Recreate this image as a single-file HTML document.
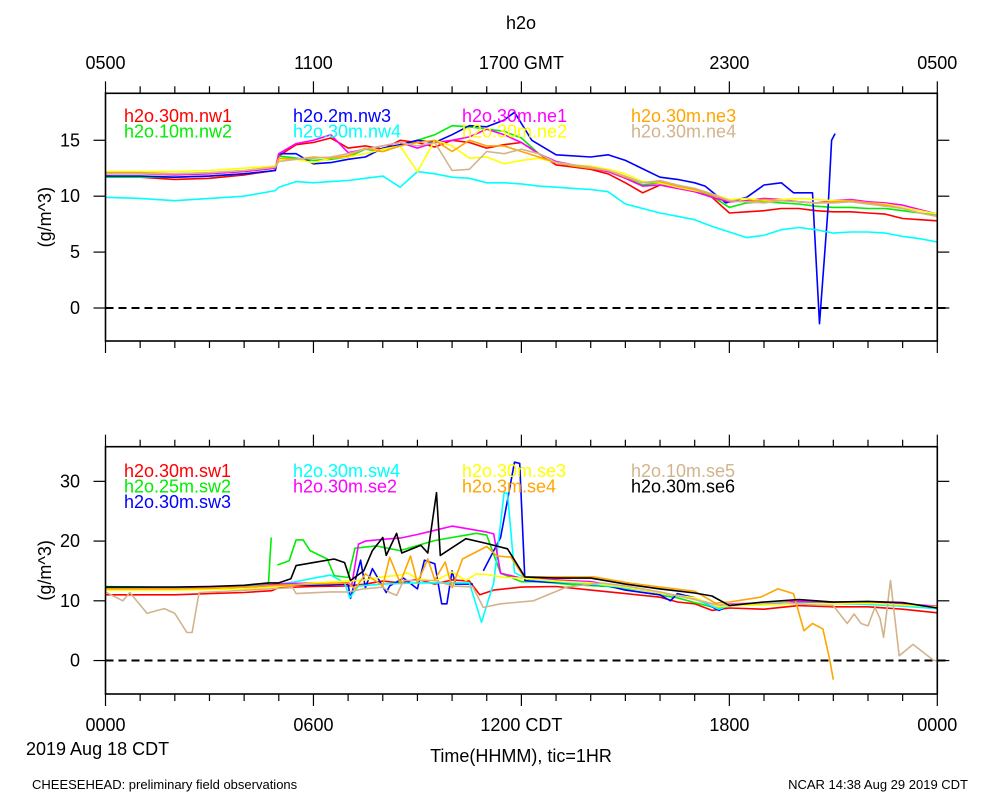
<!DOCTYPE html>
<html><head><meta charset="utf-8"><style>
html,body{margin:0;padding:0;background:#fff;}
svg{display:block;font-family:"Liberation Sans",Arial,sans-serif;}
</style></head><body>
<svg id="chart" width="1000" height="800" viewBox="0 0 1000 800" xmlns="http://www.w3.org/2000/svg">
<text x="521" y="29" font-size="18" text-anchor="middle">h2o</text>
<g id="top-axis-labels" font-size="18" text-anchor="middle"></g>
<g id="panel-top"></g>
<g id="panel-bot"></g>
<g id="bot-axis-labels" font-size="18" text-anchor="middle"></g>
<text x="26" y="755" font-size="18">2019 Aug 18 CDT</text>
<text x="521" y="762" font-size="18" text-anchor="middle">Time(HHMM), tic=1HR</text>
<text x="32" y="789" font-size="13">CHEESEHEAD: preliminary field observations</text>
<text x="968" y="789" font-size="13" text-anchor="end">NCAR 14:38 Aug 29 2019 CDT</text>
</svg>
<script>
// ---- shared ----
const topTickLabels = ["0500","1100","1700 GMT","2300","0500"];
const botTickLabels = ["0000","0600","1200 CDT","1800","0000"];
const topYTicks = [0,5,10,15];
const botYTicks = [0,10,20,30];

// ---- top panel data ----
const tT = [0,1,2,3,4,4.9,5,5.5,6,6.5,7,7.5,8,8.5,9,9.5,10,10.5,11,11.5,12,12.5,13,13.5,14,14.5,15,15.5,16,16.5,17,17.5,18,18.5,19,19.5,20,20.5,21,21.5,22,22.5,23,23.5,24];
const nw1 = [11.8,11.7,11.5,11.6,11.9,12.3,13.6,14.6,14.8,15.2,14.3,14.5,14.2,15.0,14.8,14.4,15.0,14.8,14.3,14.6,14.8,13.8,12.8,12.6,12.4,12.0,11.2,10.3,11.0,10.7,10.5,9.9,8.5,8.6,8.7,8.9,8.9,8.7,8.6,8.6,8.5,8.4,8.0,7.9,7.8];
const nw2 = [11.7,11.7,11.7,11.8,12.0,12.3,13.6,13.4,13.2,13.3,13.5,14.2,14.0,14.5,15.0,15.5,16.3,16.2,16.0,15.8,15.2,13.8,13.0,12.7,12.5,12.3,11.6,11.0,11.2,10.8,10.5,10.0,9.0,9.4,9.5,9.4,9.3,9.1,9.0,9.0,8.9,8.9,8.7,8.5,8.3];
const nw3T = [0,1,2,3,4,4.9,5,5.5,6,6.5,7,7.5,8,8.5,9,9.5,10,10.5,11,11.5,11.8,12.3,13,14,14.5,15,16,16.5,17,17.3,17.9,18.5,19,19.5,19.85,20.4,20.6,20.85,20.95,21.05];
const nw3 = [11.8,11.8,11.7,11.8,12.0,12.3,13.8,13.8,12.9,13.0,13.3,13.5,14.3,14.6,15.0,14.8,15.5,16.3,16.2,16.8,17.5,15.0,13.7,13.5,13.7,13.2,11.7,11.5,11.2,10.9,9.4,9.9,11.0,11.2,10.3,10.3,-1.4,9.0,15.0,15.6];
const nw4 = [9.9,9.8,9.6,9.8,10.0,10.5,10.8,11.3,11.2,11.3,11.4,11.6,11.8,10.8,12.2,12.0,11.7,11.6,11.2,11.2,11.1,10.9,10.8,10.7,10.6,10.4,9.3,8.9,8.5,8.2,7.9,7.3,6.8,6.3,6.5,7.0,7.2,7.0,6.7,6.8,6.8,6.7,6.4,6.2,5.9];
const ne1 = [12.0,12.0,11.9,12.0,12.2,12.5,13.8,14.7,15.0,15.5,13.9,14.2,14.5,14.8,14.3,14.8,15.0,15.3,16.0,15.5,14.8,13.8,13.1,12.8,12.5,12.2,11.6,10.9,11.0,10.7,10.4,9.9,9.5,9.6,9.8,9.7,9.5,9.4,9.6,9.7,9.5,9.4,9.2,8.8,8.4];
const ne2 = [12.2,12.2,12.2,12.3,12.5,12.7,13.2,13.3,13.0,13.4,13.5,13.8,14.2,14.5,12.2,15.0,14.5,13.4,13.5,12.9,13.2,13.4,13.0,12.8,12.7,12.4,12.0,11.3,11.2,10.8,10.5,10.2,9.7,9.8,9.6,9.7,9.8,9.7,9.6,9.6,9.4,9.3,9.0,8.7,8.4];
const ne3 = [12.1,12.1,12.0,12.1,12.3,12.6,13.4,13.3,13.5,13.4,13.6,14.3,14.0,14.5,14.8,15.0,14.0,15.0,14.5,14.5,14.0,13.5,13.0,12.7,12.5,12.3,11.7,11.2,11.3,10.9,10.6,10.1,9.6,9.5,9.7,9.6,9.5,9.4,9.5,9.6,9.4,9.2,8.9,8.5,8.2];
const ne4 = [12.0,12.0,12.0,12.1,12.3,12.6,13.1,13.3,13.4,13.5,13.8,14.2,14.5,14.8,14.5,14.8,12.3,12.4,14.0,13.8,14.2,13.8,13.0,12.8,12.6,12.3,11.8,11.2,11.4,11.0,10.7,10.2,9.6,9.5,9.4,9.6,9.5,9.4,9.4,9.5,9.3,9.1,8.9,8.5,8.2];

// ---- bottom panel data ----
const sw1T = [0,1,2,3,4,4.8,5,6,7,7.5,8,8.5,9,9.5,10,10.5,10.8,11.2,12,13,14,15,16,16.5,17,17.5,18,19,20,21,22,23,24];
const sw1 = [11.0,11.0,11.0,11.2,11.4,11.7,12.2,12.4,12.5,12.8,13.3,13.0,13.6,12.8,13.5,13.3,11.0,11.8,12.3,12.4,11.8,11.2,10.6,9.8,9.5,8.4,8.8,8.6,9.2,9.0,9.0,8.6,8.0];
const sw2T = [0,1,2,3,4,4.7,4.78,4.79,4.96,5.3,5.5,5.7,5.9,6.4,6.6,7,7.2,7.8,8.5,9.5,10.7,11,11.4,12,12.5,13.5,14.5,15.5,16.5,17,17.7,18,19,20,21,22,23,24];
const sw2 = [12.4,12.3,12.2,12.3,12.5,12.7,20.6,null,16.0,16.7,20.2,20.2,18.4,17.0,14.2,13.9,18.8,19.2,18.4,20.1,21.3,21.0,14.6,13.2,13.2,12.7,12.4,11.4,10.5,9.7,8.7,9.2,9.6,9.8,9.7,9.6,9.3,8.8];
const sw3T = [0,1,2,3,4,4.9,5,6,7,7.07,7.36,7.5,7.7,8.1,8.2,8.6,9,9.2,9.5,9.7,9.85,10,10.1,10.6,10.7,10.9,11.4,11.8,11.95,12.1,12.5,13.5,14.5,15,16,16.3,16.5,17,17.7,18,19,20,21,22,23,24];
const sw3 = [12.0,12.0,12.0,12.1,12.3,12.5,12.7,12.6,12.8,10.4,16.8,12.2,15.4,11.4,12.5,13.8,12.0,16.8,16.2,9.5,9.5,15.0,12.8,12.8,null,15.0,20.6,33.2,33.0,13.4,13.2,13.0,12.5,11.8,11.0,10.0,11.2,10.5,8.4,9.3,9.5,9.8,9.6,9.5,9.3,9.0];
const sw4T = [0,1,2,3,4,5,5.5,6,6.5,6.9,7.05,7.3,8,9,10,10.5,10.85,11.2,11.5,11.6,11.8,12.2,13,14,15,16,16.5,17,17.7,18,19,20,21,22,23,24];
const sw4 = [12.1,12.1,12.1,12.2,12.4,12.8,13.2,13.8,14.3,13.0,10.5,12.5,12.8,13.0,13.0,13.0,6.4,13.0,28.1,28.0,14.7,13.6,13.2,12.8,12.2,11.3,10.9,10.3,8.6,9.2,9.5,9.7,9.5,9.4,9.1,8.7];
const se2T = [0,1,2,3,4,5,6,7,7.1,7.3,7.5,8,8.5,9,9.5,10,10.5,11,11.2,11.4,12,13,14,15,16,17,17.7,18,19,20,21,22,23,24];
const se2 = [12.0,12.0,12.0,12.2,12.3,12.8,13.0,13.1,12.5,19.5,20.0,20.3,20.5,21.1,21.8,22.5,22.0,21.5,21.2,14.6,13.8,13.5,13.2,12.3,11.3,10.4,9.0,9.5,9.6,9.9,9.8,9.7,9.5,9.1];
const se3T = [0,1,2,3,4,5,6,7,7.5,8,8.5,8.7,9,9.5,10,10.4,10.7,11,11.5,12,13,14,15,16,17,17.7,18,19,20,21,22,23,24];
const se3 = [11.8,11.8,11.8,11.9,12.0,12.4,13.0,13.3,13.5,14.0,14.3,14.7,13.7,13.3,14.8,13.4,14.5,14.4,13.9,13.8,13.3,13.0,12.3,11.3,10.5,9.0,9.2,9.3,9.5,9.5,9.6,9.3,9.0];
const se4T = [0,1,2,3,4,5,6,7,7.2,7.5,8,8.2,8.5,8.8,9,9.3,9.5,9.8,10,10.3,11,11.3,11.7,12.07,13.3,14.1,15.2,16,17,17.6,18,18.9,19.4,19.85,20.15,20.4,20.7,20.9,21.0];
const se4 = [12.0,12.0,12.0,12.1,12.3,12.6,12.8,13.0,12.0,14.5,12.5,17.3,13.0,17.5,13.0,17.0,13.5,16.5,12.2,17.0,19.1,17.5,17.3,14.0,14.0,14.0,12.9,12.3,11.6,9.6,9.8,10.6,12.0,11.2,5.0,6.2,5.3,0.0,-3.2];
const se5T = [0,0.5,0.7,1.2,1.5,1.7,2,2.35,2.5,2.7,3.5,4.7,5.4,5.5,6.5,7,7.45,8,8.2,8.4,8.6,9.5,10,10.6,10.9,11.4,12.35,13.3,14.3,15,16,17,17.7,18,19,19.5,20,20.5,21,21.4,21.6,21.8,22,22.2,22.35,22.45,22.65,22.9,23.3,23.9,24];
const se5 = [11.5,10.0,11.4,7.9,8.4,8.7,7.9,4.7,4.7,11.4,11.6,12.0,12.2,11.2,11.5,11.5,12.0,12.3,11.4,10.9,13.4,13.4,12.5,12.3,8.9,9.5,10.0,12.3,13.0,12.5,11.5,10.2,9.3,9.4,9.6,9.8,9.5,9.3,9.2,6.2,7.8,6.2,5.8,8.9,7.0,3.9,13.4,0.8,2.7,0.0,0.0];
const se6T = [0,1,2,3,4,4.7,5,5.35,5.5,6,6.6,6.9,7.07,7.45,7.7,8,8.1,8.4,8.55,9.1,9.3,9.55,9.66,9.95,10.4,11,11.6,12.1,13,14,15,16,17,17.5,18,19,20,21,22,23,24];
const se6 = [12.3,12.3,12.3,12.4,12.6,13.0,13.0,13.7,15.9,16.4,17.0,16.4,13.4,15.0,18.4,20.6,17.6,21.3,18.0,19.3,18.0,28.1,17.6,18.7,20.4,19.6,18.7,14.0,13.8,13.8,12.8,12.0,11.3,10.8,9.2,9.8,10.2,9.8,9.9,9.7,8.8];

const NS = "http://www.w3.org/2000/svg";
const X0 = 105.5, X1 = 937.3;
function xs(h){ return X0 + (X1 - X0) * h / 24; }
function mk(tag, parent){ const e = document.createElementNS(NS, tag); parent.appendChild(e); return e; }

function drawPanel(g, top, bot, vmin, vmax, yTicks, series, legends, legendY){
  const ys = v => bot - (v - vmin) / (vmax - vmin) * (bot - top);
  const plot = mk("g", g);
  
  
  // zero line
  const z = mk("line", plot);
  
  
  z.setAttribute("x1", X0); z.setAttribute("x2", X1 + 12);
  z.setAttribute("y1", ys(0)); z.setAttribute("y2", ys(0));
  z.setAttribute("stroke", "#000"); z.setAttribute("stroke-width", "2"); z.setAttribute("stroke-dasharray", "8,5");
  series.forEach(s => {
    let d = ""; let pen = false;
    s.t.forEach((t, i) => {
      const v = s.v[i];
      if (v === null) { pen = false; return; }
      d += (pen ? "L" : "M") + xs(t).toFixed(1) + "," + ys(v).toFixed(1);
      pen = true;
    });
    const p = mk("path", plot);
    
    
    p.setAttribute("d", d); p.setAttribute("fill", "none");
    p.setAttribute("stroke", s.c); p.setAttribute("stroke-width", "1.6");
    p.setAttribute("stroke-linejoin", "round");
  });
  // legend
  const lg = mk("g", g);
  
  
  legends.forEach((col, ci) => {
    col.forEach((s, ri) => {
      const t = mk("text", lg);
      
      
      t.setAttribute("x", 124 + ci * 169); t.setAttribute("y", legendY + ri * 15.5);
      t.setAttribute("font-size", "18"); t.setAttribute("fill", s.c);
      t.textContent = s.name;
    });
  });
  // frame
  const r = mk("rect", g);
  
  
  r.setAttribute("x", X0); r.setAttribute("y", top);
  r.setAttribute("width", X1 - X0); r.setAttribute("height", bot - top);
  r.setAttribute("fill", "none"); r.setAttribute("stroke", "#000"); r.setAttribute("stroke-width", "1.6");
  // x ticks
  for (let h = 0; h <= 24; h++) {
    const len = h % 6 === 0 ? 12 : 7;
    [[top, top - len], [bot, bot + len]].forEach(([a, b]) => {
      const l = mk("line", g);
      
      
      l.setAttribute("x1", xs(h)); l.setAttribute("x2", xs(h));
      l.setAttribute("y1", a); l.setAttribute("y2", b);
      l.setAttribute("stroke", "#000"); l.setAttribute("stroke-width", "1.2");
    });
  }
  // y ticks
  yTicks.forEach(v => {
    [[X0, X0 - 12], [X1, X1 + 12]].forEach(([a, b]) => {
      const l = mk("line", g);
      
      
      l.setAttribute("x1", a); l.setAttribute("x2", b);
      l.setAttribute("y1", ys(v)); l.setAttribute("y2", ys(v));
      l.setAttribute("stroke", "#000"); l.setAttribute("stroke-width", "1.2");
    });
    const t = mk("text", g);
    
    
    t.setAttribute("x", 80); t.setAttribute("y", ys(v) + 6);
    t.setAttribute("font-size", "18"); t.setAttribute("text-anchor", "end");
    t.textContent = v;
  });
  const yt = mk("text", g);
  
  
  const cy = (top + bot) / 2;
  yt.setAttribute("x", 51); yt.setAttribute("y", cy);
  yt.setAttribute("font-size", "18"); yt.setAttribute("text-anchor", "middle");
  yt.setAttribute("transform", "rotate(-90 51 " + cy + ")");
  yt.textContent = "(g/m^3)";
}

const topSeries = [
  {name:"h2o.30m.nw1", c:"#ff0000", t:tT, v:nw1},
  {name:"h2o.10m.nw2", c:"#00ee00", t:tT, v:nw2},
  {name:"h2o.2m.nw3", c:"#0000ff", t:nw3T, v:nw3},
  {name:"h2o.30m.nw4", c:"#00ffff", t:tT, v:nw4},
  {name:"h2o.30m.ne1", c:"#ff00ff", t:tT, v:ne1},
  {name:"h2o.30m.ne2", c:"#ffff00", t:tT, v:ne2},
  {name:"h2o.30m.ne3", c:"#ffa500", t:tT, v:ne3},
  {name:"h2o.30m.ne4", c:"#d2b48c", t:tT, v:ne4}
];
drawPanel(document.getElementById("panel-top"), 93.3, 341, -2.95, 19.2, topYTicks, topSeries,
  [[topSeries[0], topSeries[1]], [topSeries[2], topSeries[3]], [topSeries[4], topSeries[5]], [topSeries[6], topSeries[7]]], 122);

const botSeries = [
  {name:"h2o.30m.sw1", c:"#ff0000", t:sw1T, v:sw1},
  {name:"h2o.25m.sw2", c:"#00ee00", t:sw2T, v:sw2},
  {name:"h2o.30m.sw3", c:"#0000ff", t:sw3T, v:sw3},
  {name:"h2o.30m.sw4", c:"#00ffff", t:sw4T, v:sw4},
  {name:"h2o.30m.se2", c:"#ff00ff", t:se2T, v:se2},
  {name:"h2o.30m.se3", c:"#ffff00", t:se3T, v:se3},
  {name:"h2o.3m.se4", c:"#ffa500", t:se4T, v:se4},
  {name:"h2o.10m.se5", c:"#d2b48c", t:se5T, v:se5},
  {name:"h2o.30m.se6", c:"#000000", t:se6T, v:se6}
];
drawPanel(document.getElementById("panel-bot"), 446.7, 694, -5.6, 35.8, botYTicks, botSeries,
  [[botSeries[0], botSeries[1], botSeries[2]], [botSeries[3], botSeries[4]], [botSeries[5], botSeries[6]], [botSeries[7], botSeries[8]]], 477);

const tl = document.getElementById("top-axis-labels");
topTickLabels.forEach((s, i) => {
  const t = mk("text", tl);
  
  
  t.setAttribute("x", xs(i * 6)); t.setAttribute("y", 69);
  t.textContent = s;
});
const bl = document.getElementById("bot-axis-labels");
botTickLabels.forEach((s, i) => {
  const t = mk("text", bl);
  
  
  t.setAttribute("x", xs(i * 6)); t.setAttribute("y", 731);
  t.textContent = s;
});
</script>
</body></html>
